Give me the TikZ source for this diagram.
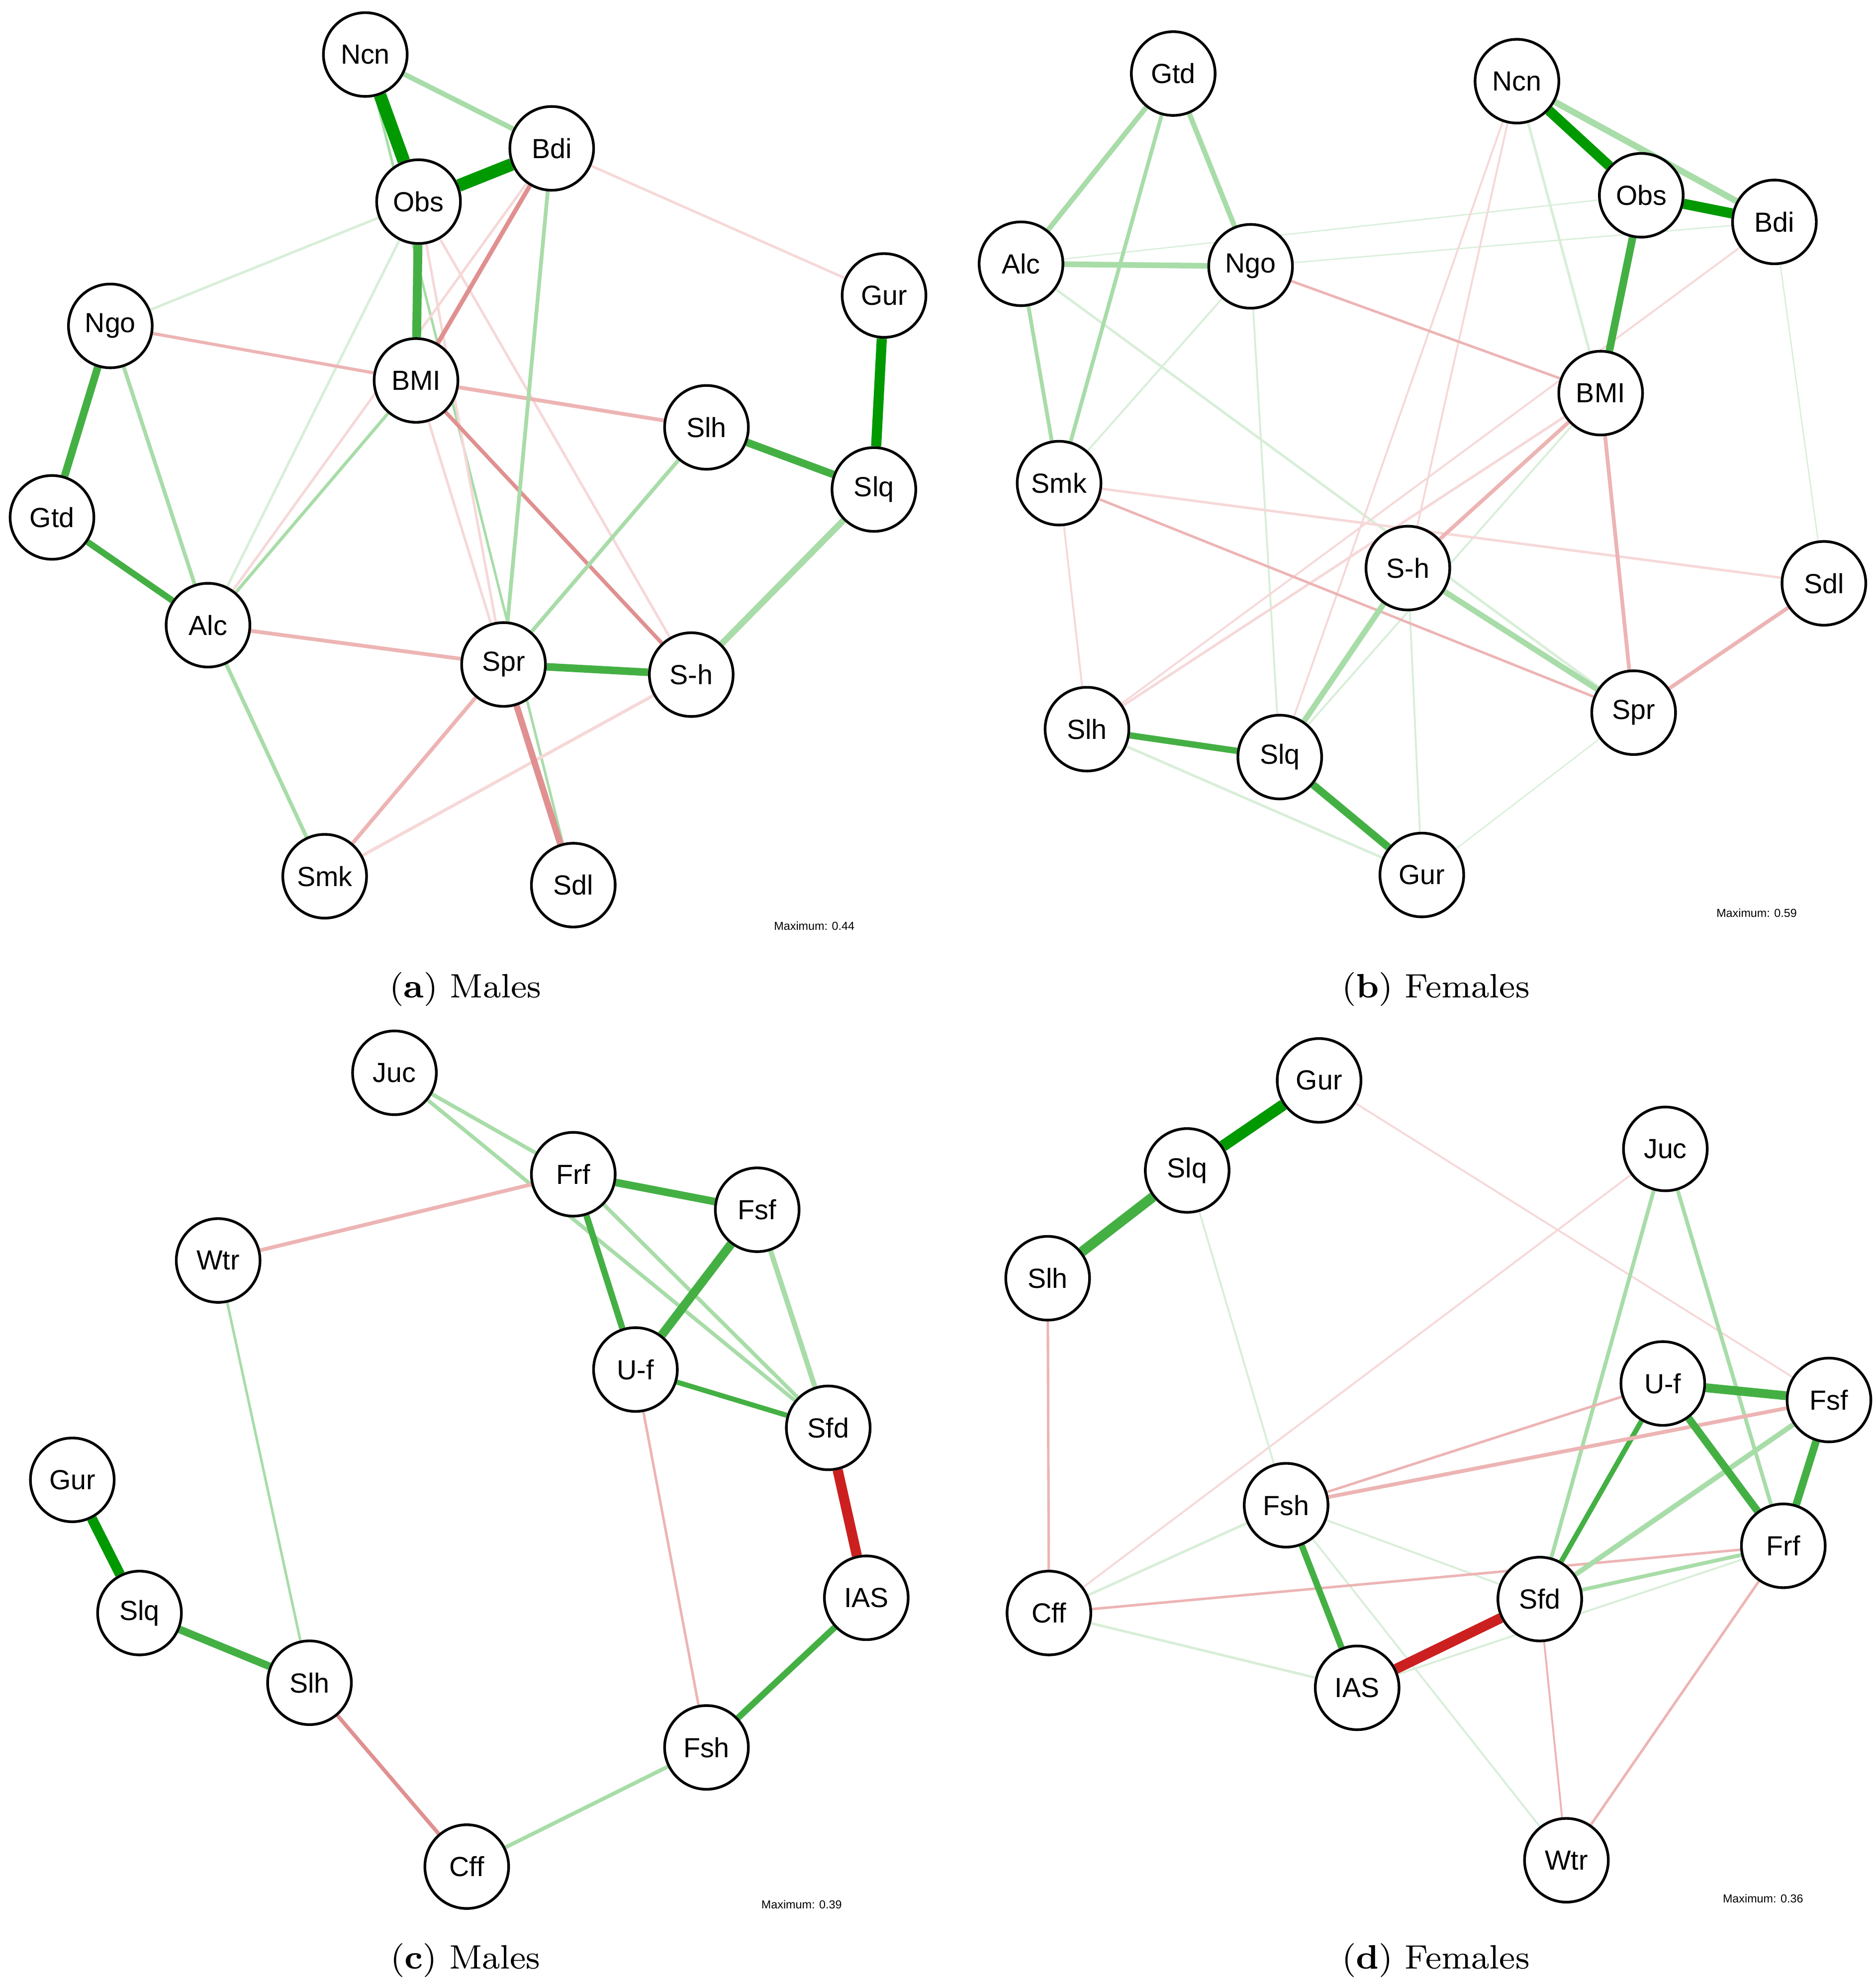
\documentclass[tikz,border=0pt]{standalone}
\usepackage{fontspec}
\newfontfamily\nodefont{Liberation Sans}
\usetikzlibrary{backgrounds}
\definecolor{gD}{HTML}{009900}
\definecolor{gM}{HTML}{44B044}
\definecolor{gL}{HTML}{A8DCA8}
\definecolor{gV}{HTML}{D8EED8}
\definecolor{rD}{HTML}{CC2020}
\definecolor{rM}{HTML}{E09090}
\definecolor{rL}{HTML}{EDB4B4}
\definecolor{rV}{HTML}{F6D8D8}
\tikzset{nd/.style={circle,draw,fill=white,line width=0.6pt,minimum size=0.66cm,inner sep=0pt,font=\nodefont\fontsize{6.2}{7}\selectfont},
 captext/.style={font=\fontsize{7.6}{9}\selectfont},
 maxl/.style={font=\nodefont\fontsize{2.6}{3}\selectfont}}
\newcommand{\E}[4]{\draw[#3,line width=#4*0.2845pt] (#1) -- (#2);}
\begin{document}
\begin{tikzpicture}[x=0.01cm,y=-0.01cm]
\useasboundingbox (0,0) rectangle (1479,1563);
% (a)
\foreach \n/\l/\x/\y in {aNcn/Ncn/288/43,aBdi/Bdi/435/117,aObs/Obs/330/159,aGur/Gur/697/233,aNgo/Ngo/87/257,aBMI/BMI/328/300,aSlh/Slh/557/337,aSlq/Slq/689/386,aGtd/Gtd/41/408,aAlc/Alc/164/493,aSpr/Spr/397/524,aSh/S-h/545/532,aSmk/Smk/256/691,aSdl/Sdl/452/698}
 \node[nd] (\n) at (\x,\y) {\l};
% (b)
\foreach \n/\l/\x/\y in {bGtd/Gtd/925/58,bNcn/Ncn/1196/64,bObs/Obs/1294/154,bBdi/Bdi/1399/175,bAlc/Alc/805/208,bNgo/Ngo/986/210,bBMI/BMI/1262/310,bSmk/Smk/835/381,bSh/S-h/1110/448,bSdl/Sdl/1438/460,bSpr/Spr/1288/562,bSlh/Slh/857/575,bSlq/Slq/1009/597,bGur/Gur/1121/690}
 \node[nd] (\n) at (\x,\y) {\l};
% (c)
\foreach \n/\l/\x/\y in {cJuc/Juc/311/846,cFrf/Frf/452/926,cFsf/Fsf/597/954,cWtr/Wtr/172/994,cUf/U-f/501/1080,cSfd/Sfd/653/1126,cGur/Gur/57/1167,cIAS/IAS/683/1260,cSlq/Slq/110/1272,cSlh/Slh/244/1327,cFsh/Fsh/557/1378,cCff/Cff/368/1472}
 \node[nd] (\n) at (\x,\y) {\l};
% (d)
\foreach \n/\l/\x/\y in {dGur/Gur/1040/852,dJuc/Juc/1313/906,dSlq/Slq/936/923,dSlh/Slh/826/1008,dUf/U-f/1311/1091,dFsf/Fsf/1442/1104,dFsh/Fsh/1014/1187,dFrf/Frf/1406/1219,dSfd/Sfd/1214/1261,dCff/Cff/827/1272,dIAS/IAS/1070/1331,dWtr/Wtr/1235/1467}
 \node[nd] (\n) at (\x,\y) {\l};
\begin{pgfonlayer}{background}
% (a) edges
\E{aObs}{aNgo}{gV}{2}\E{aObs}{aAlc}{gV}{2}\E{aBMI}{aAlc}{gL}{2.5}
\E{aNcn}{aSdl}{gL}{2}\E{aObs}{aSh}{rV}{2}\E{aObs}{aSpr}{rV}{2}
\E{aBMI}{aSpr}{rV}{2}\E{aBdi}{aAlc}{rV}{2}\E{aBdi}{aGur}{rV}{2}
\E{aNgo}{aBMI}{rL}{2.5}\E{aBMI}{aSlh}{rL}{3}\E{aBMI}{aSh}{rM}{3}
\E{aBdi}{aBMI}{rM}{3.5}\E{aBdi}{aSpr}{gL}{3}\E{aSpr}{aSlh}{gL}{3}
\E{aAlc}{aSpr}{rL}{3}\E{aAlc}{aSmk}{gL}{3}\E{aSpr}{aSmk}{rL}{3}
\E{aSmk}{aSh}{rV}{2.5}\E{aSpr}{aSdl}{rM}{5}\E{aSpr}{aSh}{gM}{6}
\E{aNgo}{aAlc}{gL}{3}\E{aNgo}{aGtd}{gM}{6}\E{aGtd}{aAlc}{gM}{5}
\E{aSlq}{aSh}{gL}{5}\E{aSlh}{aSlq}{gM}{6}\E{aGur}{aSlq}{gD}{8}
\E{aNcn}{aBdi}{gL}{4}\E{aObs}{aBMI}{gM}{7}
\E{aNcn}{aObs}{gD}{10}\E{aObs}{aBdi}{gD}{10}
% (b) edges
\E{bBdi}{bSdl}{gV}{1}\E{bNgo}{bBdi}{gV}{1}\E{bAlc}{bObs}{gV}{1}
\E{bGur}{bSpr}{gV}{1}\E{bGur}{bSh}{gV}{1.5}\E{bBMI}{bSlq}{gV}{1.5}
\E{bNgo}{bSlq}{gV}{1.5}\E{bNgo}{bSmk}{gV}{1.5}\E{bAlc}{bSpr}{gV}{2}
\E{bSlq}{bNcn}{rV}{1.5}\E{bSh}{bNcn}{rV}{1.5}\E{bSlh}{bBdi}{rV}{1.5}
\E{bSlh}{bBMI}{rV}{2}\E{bSmk}{bSlh}{rV}{1.5}\E{bSmk}{bSdl}{rV}{2}
\E{bSmk}{bSpr}{rL}{2}\E{bSpr}{bSdl}{rL}{3}\E{bBMI}{bSpr}{rL}{3}
\E{bSh}{bBMI}{rL}{3}\E{bNgo}{bBMI}{rL}{2}\E{bNcn}{bBMI}{gV}{2}
\E{bGtd}{bAlc}{gL}{4}\E{bGtd}{bNgo}{gL}{4}\E{bGtd}{bSmk}{gL}{3}
\E{bAlc}{bNgo}{gL}{4.5}\E{bAlc}{bSmk}{gL}{3}
\E{bSlh}{bGur}{gV}{2}\E{bSh}{bSlq}{gL}{4.5}\E{bSh}{bSpr}{gL}{4.5}
\E{bSlh}{bSlq}{gM}{5}\E{bSlq}{bGur}{gM}{6}
\E{bNcn}{bBdi}{gL}{5}\E{bObs}{bBMI}{gM}{6}
\E{bNcn}{bObs}{gD}{8}\E{bObs}{bBdi}{gD}{8}
% (c) edges
\E{cJuc}{cFrf}{gL}{3}\E{cJuc}{cSfd}{gL}{3}\E{cFrf}{cSfd}{gL}{3}
\E{cFsf}{cSfd}{gL}{4}\E{cUf}{cSfd}{gM}{4}\E{cFrf}{cUf}{gM}{5}
\E{cFrf}{cFsf}{gM}{6}\E{cFsf}{cUf}{gM}{7}\E{cFrf}{cWtr}{rL}{3}
\E{cSfd}{cIAS}{rD}{8}\E{cIAS}{cFsh}{gM}{5}\E{cUf}{cFsh}{rL}{2}
\E{cFsh}{cCff}{gL}{3}\E{cCff}{cSlh}{rM}{3}\E{cSlh}{cWtr}{gL}{2}
\E{cSlh}{cSlq}{gM}{6}\E{cSlq}{cGur}{gD}{8}
% (d) edges
\E{dFsh}{dWtr}{gV}{1.5}\E{dFsh}{dSfd}{gV}{1.5}\E{dIAS}{dFrf}{gV}{1.5}
\E{dSfd}{dWtr}{rL}{1.5}\E{dFrf}{dWtr}{rL}{2}\E{dCff}{dFrf}{rL}{2}
\E{dCff}{dFsh}{gV}{2}\E{dCff}{dIAS}{gV}{2}
\E{dGur}{dFsf}{rV}{1.5}\E{dJuc}{dCff}{rV}{1.5}\E{dSlq}{dFsh}{gV}{1.5}
\E{dSlh}{dCff}{rL}{2}\E{dJuc}{dSfd}{gL}{3}\E{dJuc}{dFrf}{gL}{3}
\E{dFrf}{dSfd}{gL}{3}\E{dFsf}{dSfd}{gL}{4}\E{dUf}{dSfd}{gM}{4}
\E{dUf}{dFsh}{rL}{2}\E{dFsf}{dFsh}{rL}{3}
\E{dFsh}{dIAS}{gM}{5}\E{dIAS}{dSfd}{rD}{8}
\E{dUf}{dFsf}{gM}{7}\E{dUf}{dFrf}{gM}{6}\E{dFsf}{dFrf}{gM}{6}
\E{dGur}{dSlq}{gD}{9}\E{dSlq}{dSlh}{gM}{8}
\end{pgfonlayer}
\node[maxl] (ma) at (642,730) {Maximum: 0.44};
\node[maxl] (mb) at (1385,720) {Maximum: 0.59};
\node[maxl] (mc) at (632,1502) {Maximum: 0.39};
\node[maxl] (md) at (1390,1497) {Maximum: 0.36};
\node[captext] (ca) at (367,780) {(\textbf{a}) Males};
\node[captext] (cb) at (1132,780) {(\textbf{b}) Females};
\node[captext] (cc) at (367,1546) {(\textbf{c}) Males};
\node[captext] (cd) at (1132,1546) {(\textbf{d}) Females};
\end{tikzpicture}
\end{document}
